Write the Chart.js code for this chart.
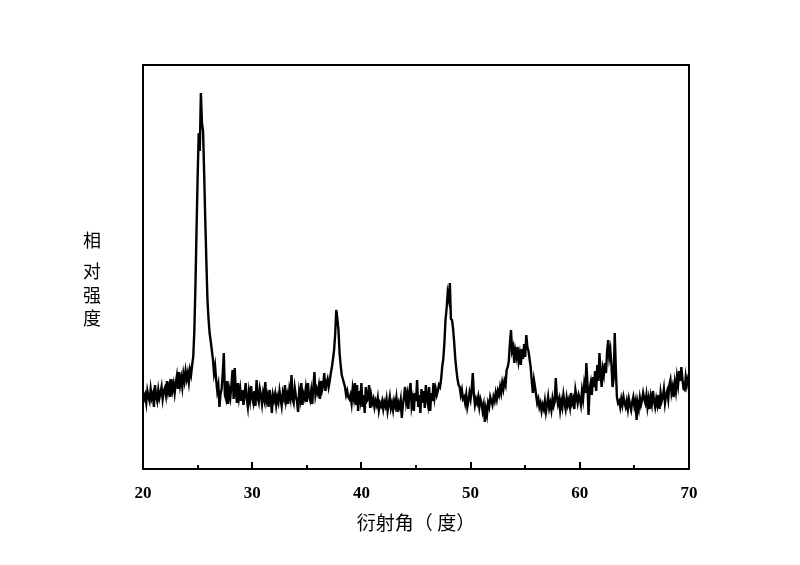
<!DOCTYPE html>
<html>
<head>
<meta charset="utf-8">
<script src="https://cdn.jsdelivr.net/npm/chart.js@4.4.0/dist/chart.umd.min.js"></script>
<style>
  html, body { margin: 0; padding: 0; background: #fff; }
  #wrap { width: 800px; height: 565px; position: relative; }
</style>
</head>
<body>
<div id="wrap"><canvas id="xrdChart"></canvas></div>
<script>
// diffraction angle grid (2theta, degrees)
const angleStart = 20;
const angleStep = 0.1;
const xTickLabels = [20, 30, 40, 50, 60, 70];
const yLabelChars = ['相', '对', '强', '度'];
const xTitle = '衍射角（ 度）';

// relative intensity, one row per degree
const intensity = [
  77, 70, 74, 66, 78, 72, 68, 80, 71, 75,        // 20
  62, 84, 73, 68, 79, 71, 76, 82, 70, 78,        // 21
  81, 74, 88, 77, 83, 72, 90, 79, 85, 76,        // 22
  86, 93, 80, 97, 84, 91, 82, 95, 88, 98,        // 23
  90, 96, 87, 99, 94, 104, 112, 138, 182, 238,   // 24
  290, 336, 318, 376, 346, 338, 296, 250, 209, 170, // 25
  150, 136, 128, 119, 110, 96, 103, 89, 78, 84,  // 26
  62, 75, 80, 95, 116, 74, 70, 88, 65, 79,       // 27
  72, 84, 99, 70, 101, 78, 66, 86, 72, 80,       // 28
  68, 79, 64, 75, 86, 70, 62, 77, 69, 83,        // 29
  71, 66, 78, 63, 89, 72, 67, 80, 74, 65,        // 30
  76, 70, 87, 68, 73, 62, 79, 71, 56, 74,        // 31
  69, 75, 64, 72, 67, 78, 70, 63, 76, 71,        // 32
  84, 68, 74, 65, 79, 72, 94, 70, 66, 81,        // 33
  73, 68, 57, 77, 70, 86, 64, 75, 71, 80,        // 34
  67, 86, 73, 69, 78, 65, 82, 97, 74, 80,        // 35
  76, 83, 70, 88, 79, 84, 96, 78, 86, 90,        // 36
  82, 88, 96, 102, 110, 119, 135, 159, 150, 139, // 37
  116, 104, 94, 90, 86, 82, 74, 78, 72, 70,      // 38
  74, 66, 80, 72, 86, 64, 84, 58, 78, 70,        // 39
  86, 62, 74, 56, 82, 68, 70, 84, 61, 73,        // 40
  66, 70, 62, 68, 64, 71, 59, 66, 63, 68,        // 41
  60, 67, 63, 70, 58, 65, 72, 61, 66, 59,        // 42
  68, 63, 71, 57, 66, 62, 69, 51, 64, 72,        // 43
  82, 67, 74, 60, 78, 86, 63, 70, 58, 76,        // 44
  68, 89, 62, 74, 56, 80, 66, 78, 61, 84,        // 45
  70, 64, 82, 58, 76, 68, 86, 72, 80, 74,        // 46
  78, 84, 82, 90, 102, 110, 126, 149, 160, 176,  // 47
  170, 186, 150, 149, 140, 126, 110, 99, 90, 84, // 48
  82, 74, 79, 70, 72, 66, 74, 62, 68, 76,        // 49
  70, 80, 96, 74, 64, 70, 66, 72, 62, 70,        // 50
  66, 58, 64, 47, 60, 54, 66, 62, 72, 68,        // 51
  64, 72, 68, 76, 70, 78, 74, 82, 76, 86,        // 52
  80, 88, 84, 99, 102, 108, 126, 139, 118, 122,  // 53
  106, 118, 112, 122, 108, 115, 104, 120, 110, 125, // 54
  112, 134, 122, 118, 110, 102, 88, 76, 89, 82,  // 55
  74, 66, 70, 62, 66, 58, 64, 60, 68, 57,        // 56
  64, 72, 61, 66, 59, 70, 63, 67, 91, 72,        // 57
  65, 70, 59, 68, 62, 74, 66, 60, 71, 64,        // 58
  69, 62, 76, 66, 70, 60, 79, 72, 66, 74,        // 59
  70, 64, 78, 70, 84, 76, 106, 86, 54, 80,       // 60
  86, 74, 92, 82, 98, 78, 104, 88, 116, 96,      // 61
  82, 100, 94, 106, 96, 118, 129, 112, 119, 104, // 62
  82, 90, 136, 100, 72, 66, 68, 62, 70, 64,      // 63
  72, 66, 62, 68, 60, 70, 64, 59, 67, 72,        // 64
  63, 68, 49, 66, 60, 71, 64, 69, 76, 70,        // 65
  66, 74, 62, 70, 60, 72, 65, 78, 68, 62,        // 66
  70, 64, 74, 60, 76, 68, 72, 80, 66, 74,        // 67
  78, 70, 84, 89, 76, 82, 72, 86, 78, 92,        // 68
  84, 98, 88, 102, 90, 80, 79, 92, 84, 90,       // 69
  86                                             // 70
];

const points = intensity.map(function (v, i) {
    return { x: +(angleStart + i * angleStep).toFixed(1), y: v };
});

// frame + inward ticks + stacked y label
const framePlugin = {
    id: 'frame',
    afterDraw: function (chart) {
        const ctx = chart.ctx;
        const a = chart.chartArea;
        const xs = chart.scales.x;
        ctx.save();
        ctx.strokeStyle = '#000';
        ctx.lineWidth = 2;
        ctx.strokeRect(a.left, a.top, a.right - a.left, a.bottom - a.top);
        ctx.beginPath();
        for (let v = 20; v <= 70; v += 5) {
            const px = Math.round(xs.getPixelForValue(v));
            const len = v % 10 === 0 ? 7 : 4;
            ctx.moveTo(px, a.bottom);
            ctx.lineTo(px, a.bottom - len);
        }
        ctx.stroke();

        ctx.fillStyle = '#000';
        ctx.font = '18px "Noto Sans CJK SC"';
        ctx.textAlign = 'center';
        ctx.textBaseline = 'middle';
        const ys = [240, 271, 295, 318];
        yLabelChars.forEach(function (ch, i) {
            ctx.fillText(ch, 92, ys[i]);
        });
        ctx.restore();
    }
};

const config = {
    type: 'line',
    data: {
        datasets: [{
            data: points,
            borderColor: '#000',
            borderWidth: 2.4,
            pointRadius: 0,
            tension: 0,
            fill: false
        }]
    },
    options: {
        responsive: true,
        maintainAspectRatio: false,
        animation: false,
        layout: { padding: { top: 65, right: 111, left: 0, bottom: 0 } },
        plugins: {
            legend: { display: false },
            tooltip: { enabled: false }
        },
        scales: {
            x: {
                type: 'linear',
                min: 20,
                max: 70,
                grid: { display: false, drawTicks: false },
                border: { display: false },
                afterFit: function (scale) { scale.height = 96; },
                afterBuildTicks: function (scale) {
                    scale.ticks = xTickLabels.map(function (v) { return { value: v }; });
                },
                ticks: {
                    color: '#000',
                    padding: 14,
                    maxRotation: 0,
                    font: { family: '"Liberation Serif"', size: 17, weight: 'bold' }
                },
                title: {
                    display: true,
                    text: xTitle,
                    color: '#000',
                    font: { family: '"Noto Sans CJK SC"', size: 19 },
                    padding: { top: 0, bottom: 31 }
                }
            },
            y: {
                min: 0,
                max: 404,
                grid: { display: false, drawTicks: false },
                border: { display: false },
                ticks: { display: false },
                afterFit: function (scale) { scale.width = 143; }
            }
        }
    },
    plugins: [framePlugin]
};

new Chart(document.getElementById('xrdChart'), config);
</script>
</body>
</html>
